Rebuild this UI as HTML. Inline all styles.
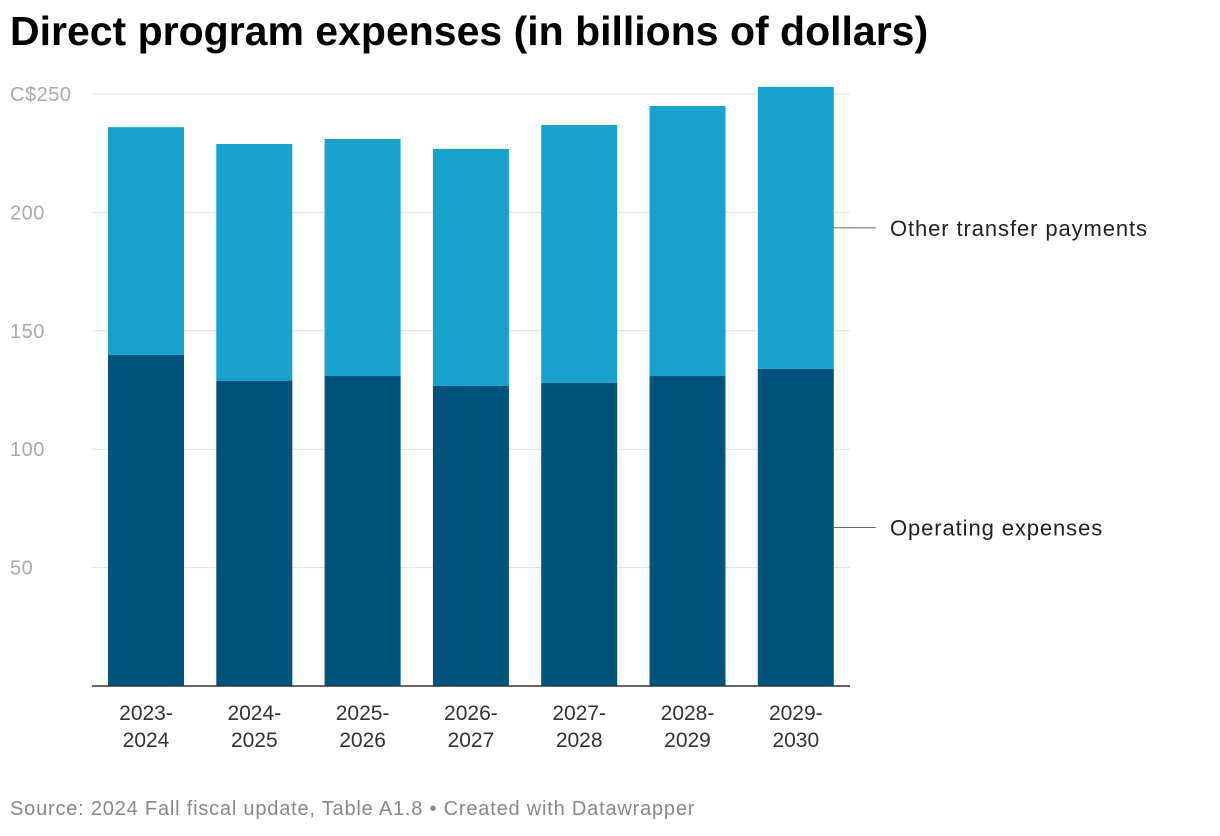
<!DOCTYPE html>
<html><head><meta charset="utf-8">
<style>
body{margin:0;background:#fff;font-family:"Liberation Sans",Arial,sans-serif;}
#wrap{position:relative;width:1220px;height:836px;overflow:hidden;}
h1{position:absolute;left:10px;top:8px;margin:0;font-size:41px;font-weight:bold;color:#000;letter-spacing:0px;}
#src{position:absolute;left:10px;top:798px;font-size:20px;color:#888;letter-spacing:0.8px;}
</style></head>
<body>
<div id="wrap">
<h1>Direct program expenses (in billions of dollars)</h1>
<svg id="chart" width="1220" height="836" style="position:absolute;left:0;top:0"></svg>
<div id="src">Source: 2024 Fall fiscal update, Table A1.8 • Created with Datawrapper</div>
</div>
<script>
const categories=["2023-2024","2024-2025","2025-2026","2026-2027","2027-2028","2028-2029","2029-2030"];
const operating=[139.8,128.8,130.9,126.7,128,130.9,133.9];
const otherTransfers=[96.2,100.1,100.1,100.1,108.9,114,119.1];
const yTicks=[50,100,150,200,250];
const yTickLabels=["50","100","150","200","C$250"];
const seriesNames=["Operating expenses","Other transfer payments"];

const NS="http://www.w3.org/2000/svg";
const svg=document.getElementById('chart');
const y0=686, pxPer=118.4/50;
const y=v=>y0-v*pxPer;
const step=108.3, bw=76, x0=108;
const x=i=>x0+i*step;
function mk(t,a){const e=document.createElementNS(NS,t);for(const k in a)e.setAttribute(k,a[k]);svg.appendChild(e);return e;}
yTicks.forEach((t,i)=>{
  const g=mk('line',{x1:92,x2:850,y1:y(t),y2:y(t),stroke:'#e0e0e0','stroke-width':1});
  
  
  const l=mk('text',{x:10,y:y(t)+7,'font-size':20,fill:'#aaa','font-family':'Liberation Sans, sans-serif','letter-spacing':0.5});
  l.textContent=yTickLabels[i];
  
  
});
categories.forEach((c,i)=>{
  const o=operating[i], t=otherTransfers[i];
  const b1=mk('rect',{x:x(i),y:y(o),width:bw,height:o*pxPer,fill:'#00537a'});
  
  
  const b2=mk('rect',{x:x(i),y:y(o+t),width:bw,height:t*pxPer,fill:'#18a1cd'});
  
  
  const parts=c.split('-');
  const l=mk('text',{x:x(i)+bw/2,y:720,'text-anchor':'middle','font-size':21,fill:'#333','font-family':'Liberation Sans, sans-serif'});
  
  
  const s1=document.createElementNS(NS,'tspan');s1.setAttribute('x',x(i)+bw/2);s1.textContent=parts[0]+'-';l.appendChild(s1);
  const s2=document.createElementNS(NS,'tspan');s2.setAttribute('x',x(i)+bw/2);s2.setAttribute('dy','27');s2.textContent=parts[1];l.appendChild(s2);
});
const ax=mk('line',{x1:92,x2:850,y1:y0,y2:y0,stroke:'#333','stroke-width':1.5});


const last=categories.length-1;
const mids=[operating[last]/2, operating[last]+otherTransfers[last]/2];
mids.forEach((m,k)=>{
  const ln=mk('line',{x1:x(last)+bw,x2:x(last)+bw+42,y1:y(m),y2:y(m),stroke:'#666','stroke-width':1});
  
  
  const tx=mk('text',{x:890,y:y(m)+8,'font-size':22,fill:'#222','font-family':'Liberation Sans, sans-serif','letter-spacing':0.9});
  tx.textContent=seriesNames[k];
  
  
});
</script>
</body></html>
